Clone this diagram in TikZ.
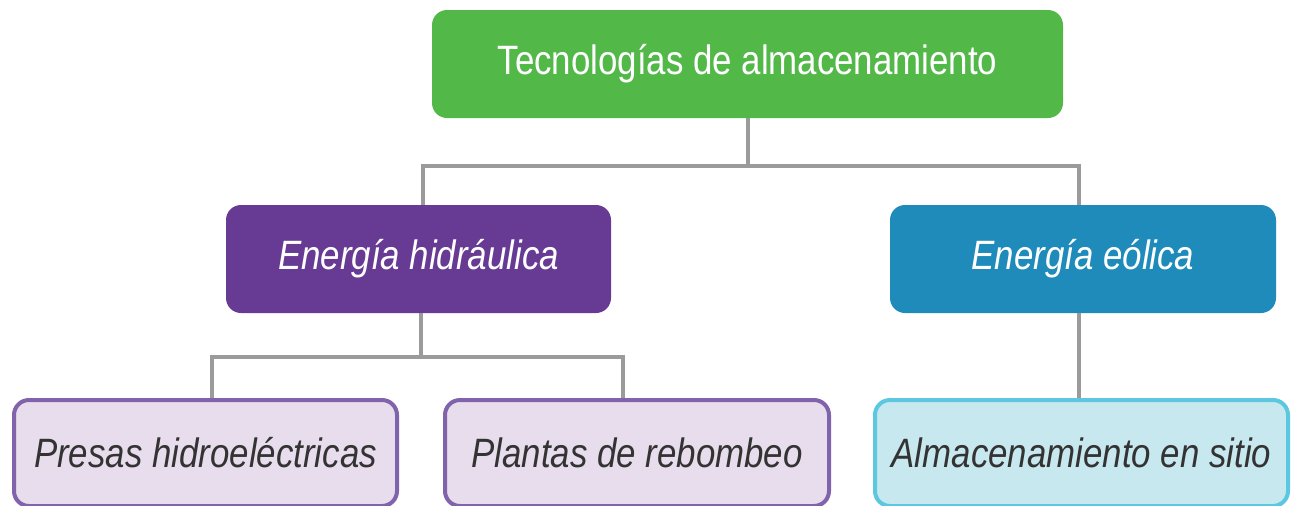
\documentclass[tikz,border=0pt]{standalone}
\usepackage{fontspec}
\setmainfont[FakeStretch=0.85]{Liberation Sans}
\usetikzlibrary{positioning}
\definecolor{topgreen}{HTML}{52B848}
\definecolor{hydpurple}{HTML}{673A93}
\definecolor{windblue}{HTML}{1F8BBA}
\definecolor{hydleaf}{HTML}{E8DDEC}
\definecolor{hydedge}{HTML}{8063AA}
\definecolor{windleaf}{HTML}{C8E8EF}
\definecolor{windedge}{HTML}{5BC8E0}
\definecolor{linegray}{HTML}{9B9B9B}
\definecolor{leaftext}{HTML}{333333}

\begin{document}
\begin{tikzpicture}[x=0.5pt,y=-0.5pt]
  \tikzset{box/.style = {shape=rectangle,rounded corners=7.5pt,inner sep=0pt,minimum height=54pt,font=\fontsize{20.5}{24}\selectfont}}
  \tikzset{rootbox/.style = {box,fill=topgreen,text=white}}
  \tikzset{midbox/.style = {box,text=white,font=\fontsize{20.5}{24}\selectfont\itshape}}
  \tikzset{leafbox/.style = {box,draw,line width=2pt,minimum height=53pt,text=leaftext,font=\fontsize{20.5}{24}\selectfont\itshape}}
  \tikzset{link/.style = {draw=linegray,line width=2pt}}

  \useasboundingbox (0,0) rectangle (1292,505);

	\node[rootbox,minimum width=315.5pt] (T) at (747.5,64) {Tecnologías de almacenamiento};

	\node[midbox,fill=hydpurple,minimum width=192.5pt] (EH) at (418.5,259) {Energía hidráulica};
	\node[midbox,fill=windblue,minimum width=193pt] (EE) at (1083,259) {Energía eólica};

	\node[leafbox,fill=hydleaf,draw=hydedge,minimum width=191.5pt] (PH) at (205.5,453) {Presas hidroeléctricas};
	\node[leafbox,fill=hydleaf,draw=hydedge,minimum width=192pt] (PR) at (637,453) {Plantas de rebombeo};
	\node[leafbox,fill=windleaf,draw=windedge,minimum width=206.5pt] (AS) at (1081.5,453) {Almacenamiento en sitio};

	\coordinate (J1) at (748,166);
	\coordinate (J2) at (421,357);

    \path[link] (T.south -| J1) -- (J1);
    \path[link] ([xshift=2.25pt]EH.north) |- (J1) -| ([xshift=-2pt]EE.north);
    \path[link] (EH.south -| J2) -- (J2);
    \path[link] ([xshift=3.25pt]PH.north) |- (J2) -| ([xshift=-7pt]PR.north);
    \path[link] ([xshift=-2pt]EE.south) -- ([xshift=-1.25pt]AS.north);

\end{tikzpicture}
\end{document}
